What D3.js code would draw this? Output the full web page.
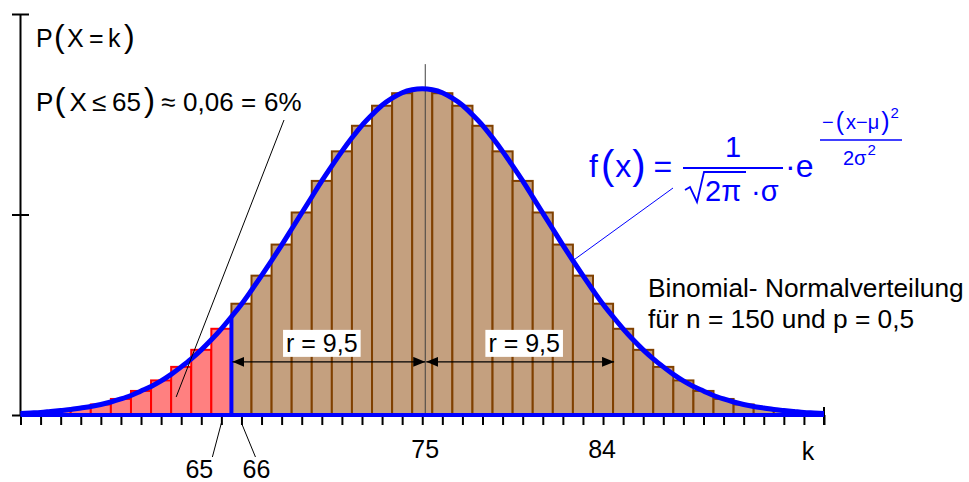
<!DOCTYPE html>
<html>
<head>
<meta charset="utf-8">
<script src="https://cdn.jsdelivr.net/npm/d3@7"></script>
<style>
  html, body { margin: 0; padding: 0; background: #fff; }
  svg { display: block; font-family: "Liberation Sans", Arial, sans-serif; }
</style>
</head>
<body>
<svg id="chart" width="969" height="482"></svg>
<script>
// k values shown on the axis
const kValues = d3.range(55, 96);

// P(X = k) for n = 150, p = 0.5, k = 55 ... 95
const binomProb = [
  0.0003, 0.0005, 0.0009, 0.0014, 0.0021, 0.0032, 0.0048, 0.0069, 0.0096, 0.0130,
  0.0172, 0.0222, 0.0278, 0.0340, 0.0404, 0.0467, 0.0526, 0.0577, 0.0617, 0.0642,
  0.0650,
  0.0642, 0.0617, 0.0577, 0.0526, 0.0467, 0.0404, 0.0340, 0.0278, 0.0222, 0.0172,
  0.0130, 0.0096, 0.0069, 0.0048, 0.0032, 0.0021, 0.0014, 0.0009, 0.0005, 0.0003
];

// normal curve, read at half steps from 55 to 95
const curveX = d3.range(55, 95.01, 0.5);
const curveY = [
  0.0003, 0.0004, 0.0005, 0.0007, 0.0009, 0.0011, 0.0014, 0.0017, 0.0021, 0.0026,
  0.0032, 0.0039, 0.0048, 0.0057, 0.0068, 0.0081, 0.0096, 0.0112, 0.0130, 0.0150,
  0.0172, 0.0196, 0.0221, 0.0249, 0.0278, 0.0308, 0.0339, 0.0371, 0.0403, 0.0435,
  0.0467, 0.0497, 0.0526, 0.0553, 0.0578, 0.0599, 0.0618, 0.0632, 0.0643, 0.0649,
  0.0651,
  0.0649, 0.0643, 0.0632, 0.0618, 0.0599, 0.0578, 0.0553, 0.0526, 0.0497, 0.0467,
  0.0435, 0.0403, 0.0371, 0.0339, 0.0308, 0.0278, 0.0249, 0.0221, 0.0196, 0.0172,
  0.0150, 0.0130, 0.0112, 0.0096, 0.0081, 0.0068, 0.0057, 0.0048, 0.0039, 0.0032,
  0.0026, 0.0021, 0.0017, 0.0014, 0.0011, 0.0009, 0.0007, 0.0005, 0.0004, 0.0003
];

const yTicks = [0, 0.04, 0.08];
const labelledK = [75, 84];
const mu = 75;
const r = 9.5;
const cutK = 65;

const svg = d3.select("#chart");
const x = d3.scaleLinear().domain([55, 95]).range([20.5, 824]);
const y = d3.scaleLinear().domain([0, 0.08]).range([415, 14]);

const bars = kValues.map((k, i) => ({ k, p: binomProb[i] }));

const defs = svg.append("defs");
defs.append("clipPath").attr("id", "plot")
  .append("rect")
  .attr("x", x(55)).attr("y", 0)
  .attr("width", x(95) - x(55)).attr("height", y(0) + 2);

// bars
svg.append("g")
  .attr("clip-path", "url(#plot)")
  .selectAll("rect")
  .data(bars)
  .join("rect")
  .attr("x", (d) => x(d.k - 0.5))
  .attr("width", (d) => x(d.k + 0.5) - x(d.k - 0.5))
  .attr("y", (d) => y(d.p))
  .attr("height", (d) => y(0) - y(d.p))
  .attr("fill", (d) => (d.k <= cutK ? "#ff8080" : "#c4a07f"))
  .attr("stroke", (d) => (d.k <= cutK ? "#ff0000" : "#804000"))
  .attr("stroke-width", 2);

// mean line
svg.append("line")
  .attr("x1", x(mu) + 3).attr("x2", x(mu) + 3)
  .attr("y1", y(0)).attr("y2", y(0.07))
  .attr("stroke", "#404040").attr("stroke-width", 1);

// y axis
svg.append("line")
  .attr("x1", x(55)).attr("x2", x(55))
  .attr("y1", y(0)).attr("y2", y(0.08))
  .attr("stroke", "#000").attr("stroke-width", 2);
svg.append("g")
  .attr("transform", `translate(${x(55) + 8.5},0)`)
  .call(d3.axisLeft(y).tickValues(yTicks).tickSize(17).tickFormat(""))
  .call((g) => g.select(".domain").remove())
  .call((g) => g.selectAll(".tick line").attr("stroke-width", 2));

// x axis
svg.append("g")
  .attr("transform", `translate(0,${y(0)})`)
  .call(d3.axisBottom(x).tickValues(kValues).tickSize(10).tickSizeOuter(0).tickFormat(""))
  .call((g) => g.selectAll(".tick line").attr("stroke-width", 2))
  .call((g) => g.select(".domain").attr("stroke-width", 2));
svg.append("line")
  .attr("x1", x(95)).attr("x2", x(95))
  .attr("y1", y(0) - 8).attr("y2", y(0) + 10)
  .attr("stroke", "#000").attr("stroke-width", 2);

// blue baseline, cut line and curve
svg.append("line")
  .attr("x1", x(55)).attr("x2", x(95))
  .attr("y1", y(0)).attr("y2", y(0))
  .attr("stroke", "#0000ff").attr("stroke-width", 4);
svg.append("line")
  .attr("x1", x(cutK + 0.5)).attr("x2", x(cutK + 0.5))
  .attr("y1", y(0)).attr("y2", y(curveY[curveX.indexOf(cutK + 0.5)]))
  .attr("stroke", "#0000ff").attr("stroke-width", 4);
svg.append("path")
  .datum(curveX.map((v, i) => [v, curveY[i]]))
  .attr("fill", "none")
  .attr("stroke", "#0000ff")
  .attr("stroke-width", 5)
  .attr("stroke-linejoin", "round")
  .attr("d", d3.line().x((d) => x(d[0])).y((d) => y(d[1])).curve(d3.curveMonotoneX));

// arrows
defs.append("marker")
  .attr("id", "head")
  .attr("viewBox", "0 0 12 10")
  .attr("refX", 12).attr("refY", 5)
  .attr("markerWidth", 12).attr("markerHeight", 10)
  .attr("markerUnits", "userSpaceOnUse")
  .attr("orient", "auto-start-reverse")
  .append("path").attr("d", "M0,0L12,5L0,10Z").attr("fill", "#000");

const arrowY = y(0.0106);
const spans = [[mu - r, mu, -7], [mu, mu + r, 4]];
spans.forEach(([a, b, shift]) => {
  const x1 = a === mu ? x(a) + 4 : x(a) + 1;
  const x2 = b === mu ? x(b) + 3 : x(b) + 1;
  svg.append("line")
    .attr("x1", x1).attr("x2", x2)
    .attr("y1", arrowY).attr("y2", arrowY)
    .attr("stroke", "#000").attr("stroke-width", 1.3)
    .attr("marker-start", "url(#head)").attr("marker-end", "url(#head)");
  const cx = (x1 + x2) / 2 + shift;
  const t = svg.append("text")
    .attr("x", cx).attr("y", arrowY - 10)
    .attr("text-anchor", "middle")
    .attr("font-size", 25)
    .text(`r = ${String(r).replace(".", ",")}`);
  const bb = t.node().getBBox();
  svg.insert("rect", () => t.node())
    .attr("x", bb.x - 3).attr("y", bb.y + 1)
    .attr("width", bb.width + 6).attr("height", bb.height - 1)
    .attr("fill", "#fff");
});

// x labels
labelledK.forEach((k) => {
  svg.append("text")
    .attr("x", x(k) + (k === mu ? 3 : -1)).attr("y", 458)
    .attr("text-anchor", "middle").attr("font-size", 25)
    .text(k);
});
svg.append("text").attr("x", 808).attr("y", 460)
  .attr("text-anchor", "middle").attr("font-size", 25).text("k");

[[cutK, -22, -9], [cutK + 1, 15, 14]].forEach(([k, dx, lx]) => {
  svg.append("line")
    .attr("x1", x(k)).attr("y1", y(0) + 8)
    .attr("x2", x(k) + lx).attr("y2", 457)
    .attr("stroke", "#000").attr("stroke-width", 1);
  svg.append("text")
    .attr("x", x(k) + dx).attr("y", 478)
    .attr("text-anchor", "middle").attr("font-size", 25)
    .text(k);
});

// left texts: pieces placed like the formula editor did
function pieces(baseline, size, parts) {
  const t = svg.append("text").attr("y", baseline).attr("font-size", size);
  parts.forEach(([px, s, big]) => {
    t.append("tspan").attr("x", px).attr("font-size", big ? size * 1.28 : size).text(s);
  });
}
pieces(47, 25, [[36, "P"], [54, "(", true], [67, "X"], [89, "="], [108, "k"], [124, ")", true]]);
pieces(111, 26, [
  [36, "P"], [54.5, "(", true], [69.5, "X"], [92, "≤"], [112, String(cutK)],
  [144, ")", true], [161, "≈"], [183, "0,06"], [241, "="], [264, "6%"]
]);

svg.append("line")
  .attr("x1", 284).attr("y1", 120)
  .attr("x2", x(62.75)).attr("y2", y(0.0036))
  .attr("stroke", "#000").attr("stroke-width", 1);

// right texts
svg.append("text").attr("x", 648).attr("y", 297).attr("font-size", 26.3)
  .text("Binomial- Normalverteilung");
svg.append("text").attr("x", 648).attr("y", 328).attr("font-size", 26.3)
  .text("für n = 150 und p = 0,5");

// formula
const blue = "#0000ff";
const f = svg.append("g").attr("fill", blue);
const f1 = f.append("text").attr("x", 589).attr("y", 177).attr("font-size", 32);
f1.append("tspan").text("f");
f1.append("tspan").attr("font-size", 40).attr("dx", 3).attr("dy", 2).text("(");
f1.append("tspan").attr("dy", -2).attr("dx", 1).text("x");
f1.append("tspan").attr("font-size", 40).attr("dx", 1).attr("dy", 2).text(")");
f1.append("tspan").attr("dy", -2).attr("dx", 8).text("=");
f.append("line").attr("x1", 683).attr("x2", 783).attr("y1", 168).attr("y2", 168)
  .attr("stroke", blue).attr("stroke-width", 2);
f.append("text").attr("x", 733).attr("y", 157).attr("text-anchor", "middle")
  .attr("font-size", 29).text("1");
// radical
f.append("path").attr("d", "M685,190 L690,187 L697,202 L704,172 L746,172")
  .attr("fill", "none").attr("stroke", blue).attr("stroke-width", 1.8);
f.append("text").attr("x", 705).attr("y", 201).attr("font-size", 29).text("2π");
f.append("text").attr("x", 751).attr("y", 201).attr("font-size", 29).text("·σ");
f.append("text").attr("x", 785).attr("y", 177).attr("font-size", 32).text("·e");
f.append("line").attr("x1", 820).attr("x2", 902).attr("y1", 140).attr("y2", 140)
  .attr("stroke", blue).attr("stroke-width", 1.5);
const ex = f.append("text").attr("x", 822).attr("y", 129).attr("font-size", 20);
ex.append("tspan").text("−");
ex.append("tspan").attr("font-size", 25).attr("dx", 2).attr("dy", 1).text("(");
ex.append("tspan").attr("dy", -1).attr("dx", 2).text("x−μ");
ex.append("tspan").attr("font-size", 25).attr("dx", 2).attr("dy", 1).text(")");
ex.append("tspan").attr("font-size", 15).attr("dx", 1).attr("dy", -12).text("2");
const ed = f.append("text").attr("x", 843).attr("y", 165).attr("font-size", 20);
ed.append("tspan").text("2σ");
ed.append("tspan").attr("font-size", 15).attr("dx", 1).attr("dy", -10).text("2");

svg.append("line")
  .attr("x1", 673).attr("y1", 188)
  .attr("x2", x(82.5)).attr("y2", y(0.0308))
  .attr("stroke", blue).attr("stroke-width", 1);
</script>
</body>
</html>
